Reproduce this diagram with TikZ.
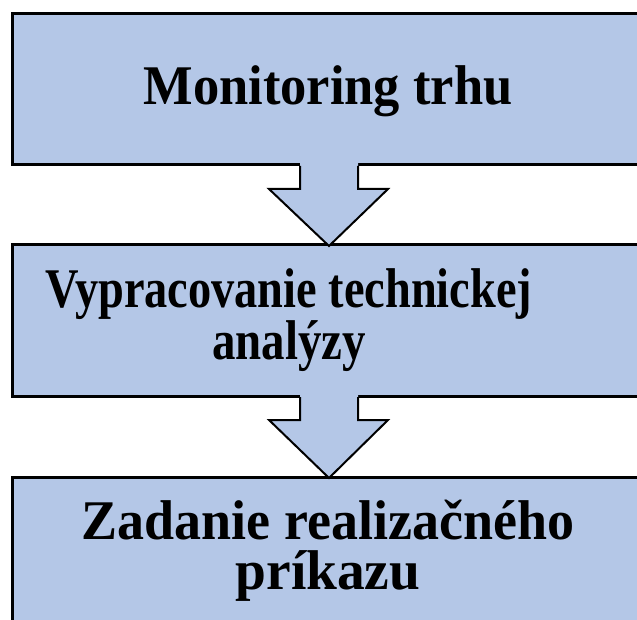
\documentclass[tikz,border=0pt]{standalone}
\usepackage{graphicx}
\usepackage{fontspec}
\setmainfont{Liberation Serif}
\definecolor{boxblue}{HTML}{B4C7E7}
\begin{document}
\begin{tikzpicture}[x=1pt,y=-1pt,
  stage/.style={fill=boxblue,draw=black,line width=3pt},
  arrowshape/.style={fill=boxblue,draw=black,line width=2pt,line join=miter},
  label/.style={font=\fontsize{56}{50}\selectfont\bfseries,inner sep=0pt,align=center}]
\useasboundingbox (0,0) rectangle (637,620);
\draw[stage] (12,14) rectangle (648,165);
\draw[stage] (12,245) rectangle (648,396);
\draw[stage] (12,477) rectangle (648,660);
% arrows
\foreach \t/\b in {165/245, 396/477}{
  \fill[boxblue] (300,\t-3) -- (300,\t+24) -- (269,\t+24) -- (329,\b+1) -- (388,\t+24) -- (358,\t+24) -- (358,\t-3) -- cycle;
  \draw[arrowshape,fill=none] (300,\t+1) -- (300,\t+24) -- (269,\t+24) -- (329,\b+1) -- (388,\t+24) -- (358,\t+24) -- (358,\t+1);
}
\node[label,anchor=base] (t1) at (328,105) {\scalebox{0.937}[1]{Monitoring trhu}};
\node[label,anchor=south] (t2) at (289,372) {\scalebox{0.828}[1]{Vypracovanie technickej}\\\scalebox{0.837}[1]{analýzy}};
\node[label,anchor=south] (t3) at (328,602) {\scalebox{0.964}[1]{Zadanie realizačného}\\\scalebox{0.99}[1]{príkazu}};
\end{tikzpicture}
\end{document}
